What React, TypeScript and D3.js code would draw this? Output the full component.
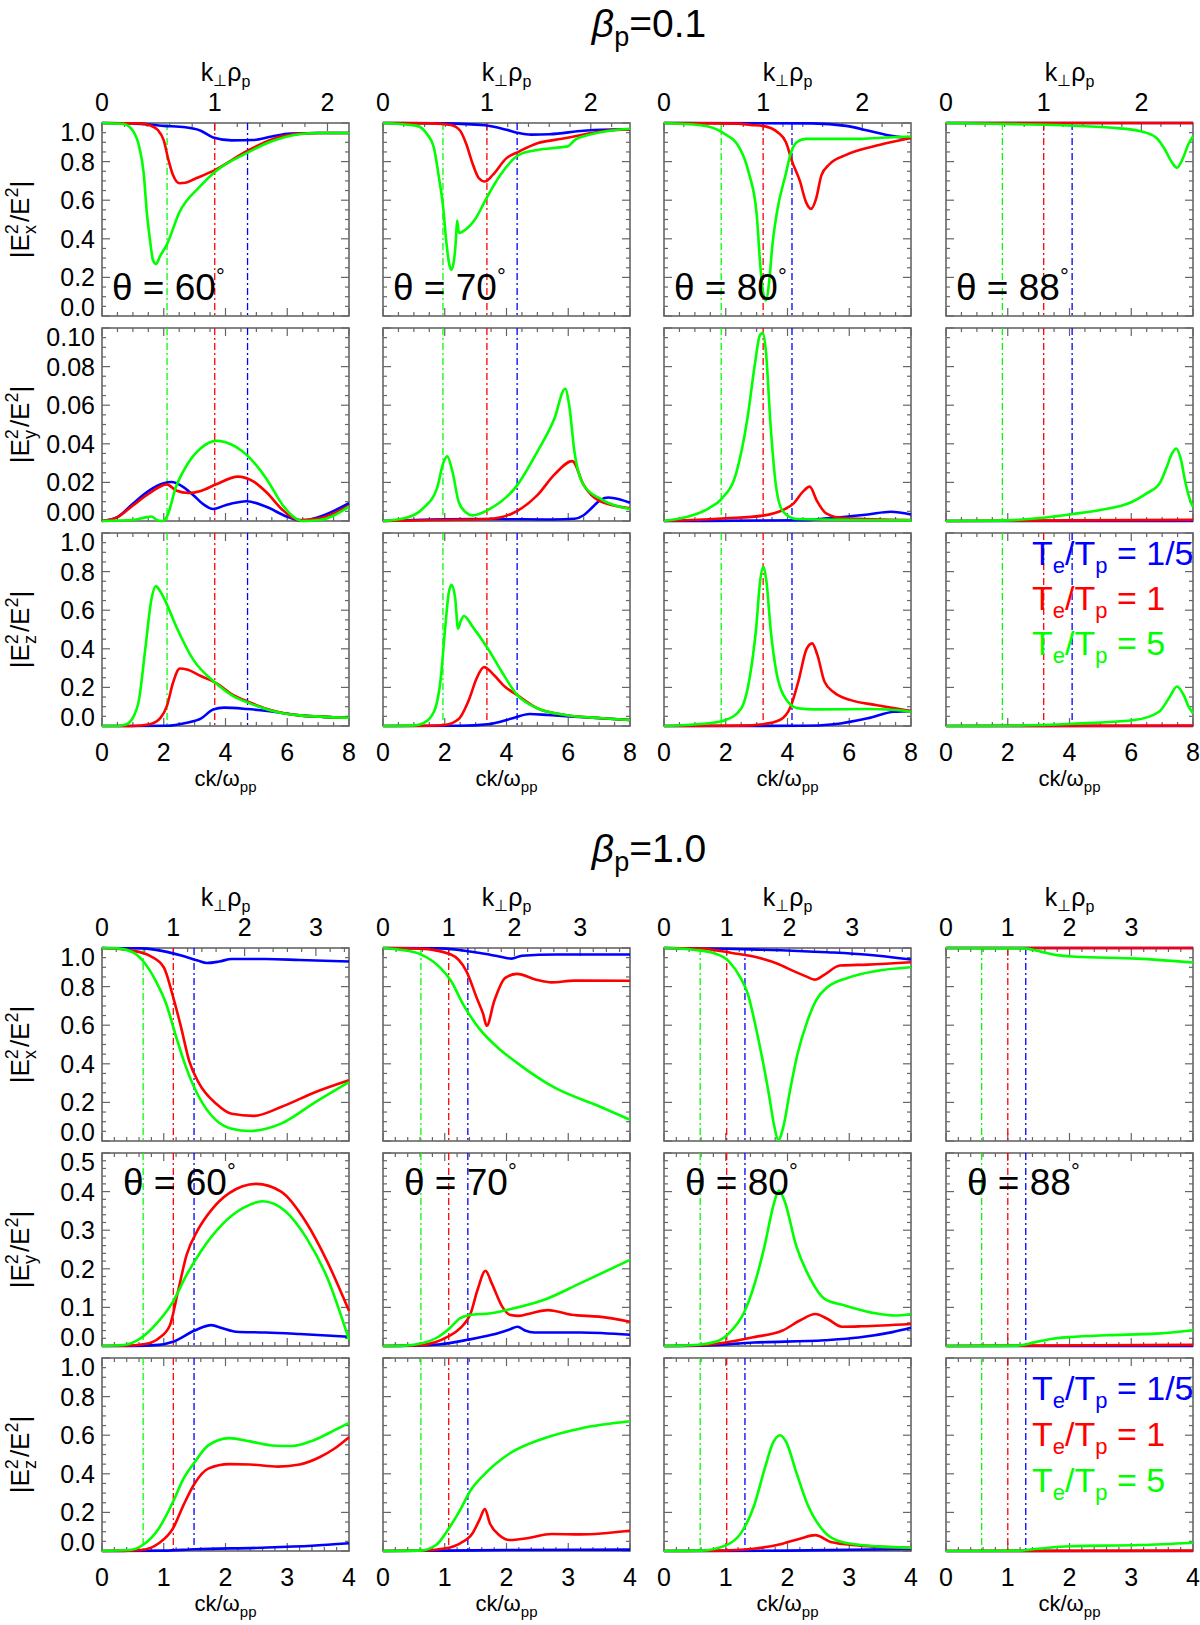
import * as d3 from 'd3'

type Pt = [number, number]

// ---- beta_p = 0.1 : |Ex^2/E^2| (x = ck/wpp) ----
const b1Ex60B: Pt[] = [[0,1],[1,0.998],[2,0.985],[2.7,0.978],[3.2,0.96],[3.6,0.925],[4.2,0.91],[4.9,0.912],[5.5,0.93],[6.1,0.945],[7,0.948],[8,0.948]]
const b1Ex60R: Pt[] = [[0,1],[1.2,0.998],[1.6,0.985],[1.8,0.965],[2.0,0.91],[2.15,0.81],[2.3,0.73],[2.5,0.688],[2.7,0.69],[3.0,0.71],[3.7,0.76],[4.7,0.855],[5.5,0.915],[6.4,0.945],[7,0.948],[8,0.948]]
const b1Ex60G: Pt[] = [[0,1],[0.7,0.995],[1.0,0.96],[1.2,0.88],[1.35,0.74],[1.45,0.54],[1.55,0.4],[1.65,0.29],[1.75,0.27],[1.88,0.31],[2.1,0.37],[2.5,0.535],[3.2,0.675],[3.7,0.752],[4.7,0.845],[5.5,0.905],[6.4,0.942],[7,0.948],[8,0.948]]
const b1Ex70B: Pt[] = [[0,1],[2,0.998],[3.3,0.988],[4.0,0.965],[4.4,0.948],[4.8,0.94],[5.4,0.942],[6.5,0.96],[7.1,0.965],[8,0.967]]
const b1Ex70R: Pt[] = [[0,1],[1.6,0.998],[2.2,0.99],[2.5,0.96],[2.7,0.89],[2.9,0.79],[3.1,0.715],[3.3,0.697],[3.55,0.73],[4.0,0.818],[4.4,0.852],[5.0,0.895],[5.8,0.918],[6.5,0.94],[7.2,0.96],[8,0.967]]
const b1Ex70G: Pt[] = [[0,1],[1.1,0.985],[1.4,0.948],[1.65,0.87],[1.8,0.73],[1.95,0.56],[2.05,0.385],[2.15,0.265],[2.22,0.24],[2.3,0.29],[2.36,0.39],[2.4,0.495],[2.46,0.43],[2.6,0.44],[3.0,0.505],[3.35,0.61],[3.8,0.73],[4.4,0.835],[5.0,0.86],[5.8,0.875],[6.0,0.88],[6.2,0.91],[6.7,0.94],[8,0.97]]
const b1Ex80B: Pt[] = [[0,1],[4.8,0.998],[5.9,0.985],[6.7,0.957],[7.4,0.932],[8,0.922]]
const b1Ex80R: Pt[] = [[0,1],[2.4,0.997],[2.8,0.99],[3.2,0.985],[3.7,0.95],[3.95,0.9],[4.15,0.8],[4.4,0.7],[4.6,0.59],[4.76,0.555],[4.93,0.61],[5.1,0.73],[5.35,0.785],[5.9,0.835],[7,0.887],[8,0.922]]
const b1Ex80G: Pt[] = [[0,1],[1.2,0.988],[1.9,0.95],[2.45,0.87],[2.75,0.74],[3.0,0.53],[3.12,0.26],[3.2,0.13],[3.3,0.08],[3.42,0.2],[3.5,0.35],[3.65,0.53],[3.95,0.74],[4.1,0.84],[4.3,0.9],[4.6,0.918],[6.4,0.918],[7.2,0.925],[8,0.93]]
const b1Ex88B: Pt[] = [[0,1],[8,1]]
const b1Ex88R: Pt[] = [[0,1],[8,1]]
const b1Ex88G: Pt[] = [[0,1],[2,0.995],[3.8,0.988],[5.4,0.975],[6.3,0.957],[6.8,0.925],[7.1,0.86],[7.3,0.8],[7.48,0.768],[7.68,0.82],[7.85,0.89],[8,0.93]]

// ---- beta_p = 0.1 : |Ey^2/E^2| ----
const b1Ey60B: Pt[] = [[0,0],[0.5,0.002],[1.0,0.009],[1.55,0.016],[2.0,0.0195],[2.25,0.0202],[2.6,0.018],[2.95,0.0135],[3.3,0.0085],[3.6,0.0062],[4.0,0.0082],[4.7,0.0102],[5.3,0.0075],[6.0,0.0022],[6.5,0.0002],[7.05,0.0022],[8,0.0092]]
const b1Ey60R: Pt[] = [[0,0],[0.5,0.002],[1.0,0.008],[1.55,0.0145],[2.1,0.019],[2.4,0.0158],[2.8,0.0145],[3.2,0.0156],[3.7,0.019],[4.4,0.023],[4.9,0.0205],[5.35,0.0145],[5.85,0.0057],[6.4,0.0005],[7.05,0.0014],[8,0.008]]
const b1Ey60G: Pt[] = [[0,0],[1.0,0.0005],[1.45,0.002],[1.6,0.0023],[1.77,0.0006],[1.95,0],[2.1,0.0022],[2.4,0.0178],[2.75,0.029],[3.2,0.0377],[3.7,0.0415],[4.0,0.0408],[4.7,0.034],[5.35,0.0213],[5.85,0.0083],[6.2,0.0022],[6.5,0],[7.05,0.0005],[8,0.0074]]
const b1Ey70B: Pt[] = [[0,0],[1,0.0005],[3,0.001],[5.5,0.0008],[6.2,0.0012],[6.5,0.003],[6.75,0.0066],[7.05,0.011],[7.3,0.0122],[7.7,0.011],[8,0.0095]]
const b1Ey70R: Pt[] = [[0,0],[1.9,0.0005],[3.4,0.001],[4.2,0.004],[5.0,0.0134],[5.55,0.024],[6.13,0.031],[6.5,0.0186],[7.0,0.0105],[8,0.0066]]
const b1Ey70G: Pt[] = [[0,0],[0.7,0.0014],[1.3,0.0066],[1.75,0.017],[1.95,0.03],[2.08,0.0335],[2.25,0.0255],[2.45,0.01],[2.7,0.0043],[2.9,0.0029],[3.4,0.0057],[4.35,0.0186],[5.0,0.036],[5.55,0.053],[5.9,0.0685],[6.03,0.06],[6.2,0.036],[6.5,0.0186],[7.1,0.011],[8,0.0062]]
const b1Ey80B: Pt[] = [[0,0],[4.5,0.0004],[5.5,0.0017],[6.6,0.0034],[7.35,0.0048],[8,0.0034]]
const b1Ey80R: Pt[] = [[0,0],[0.9,0.0005],[2,0.0014],[3.2,0.0028],[3.85,0.0057],[4.2,0.0091],[4.5,0.0152],[4.72,0.0178],[4.95,0.0105],[5.25,0.004],[5.85,0.0014],[8,0.0005]]
const b1Ey80G: Pt[] = [[0,0],[0.9,0.0028],[1.45,0.0066],[1.85,0.0112],[2.35,0.0255],[2.7,0.053],[2.95,0.082],[3.1,0.096],[3.2,0.0975],[3.3,0.088],[3.45,0.05],[3.62,0.019],[3.85,0.005],[4.3,0.001],[8,0.0003]]
const b1Ey88B: Pt[] = [[0,0],[8,0]]
const b1Ey88R: Pt[] = [[0,0],[4,0.0003],[8,0.0006]]
const b1Ey88G: Pt[] = [[0,0],[1.75,0.0002],[3.15,0.0017],[4.1,0.0036],[5.0,0.0057],[6.0,0.0097],[6.5,0.0143],[6.92,0.0195],[7.15,0.028],[7.32,0.035],[7.46,0.0376],[7.6,0.0324],[7.75,0.0203],[7.9,0.011],[8,0.0074]]

// ---- beta_p = 0.1 : |Ez^2/E^2| ----
const b1Ez60B: Pt[] = [[0,0],[2.1,0.001],[2.75,0.017],[3.2,0.038],[3.6,0.085],[3.95,0.095],[4.7,0.088],[5.35,0.078],[6.4,0.055],[8,0.043]]
const b1Ez60R: Pt[] = [[0,0],[1.0,0],[1.55,0.009],[1.9,0.043],[2.1,0.103],[2.3,0.224],[2.52,0.298],[2.75,0.293],[3.2,0.259],[3.7,0.222],[4.25,0.16],[4.75,0.125],[5.35,0.088],[6.4,0.055],[8,0.043]]
const b1Ez60G: Pt[] = [[0,0],[0.5,0],[0.8,0.009],[1.0,0.043],[1.2,0.138],[1.4,0.397],[1.6,0.655],[1.74,0.725],[1.88,0.7],[2.1,0.63],[2.4,0.517],[2.95,0.345],[3.7,0.22],[4.25,0.155],[4.75,0.12],[5.35,0.086],[6.4,0.055],[8,0.043]]
const b1Ez70B: Pt[] = [[0,0],[2.5,0.001],[3.4,0.009],[4.2,0.04],[4.75,0.062],[5.35,0.057],[6.5,0.045],[8,0.031]]
const b1Ez70R: Pt[] = [[0,0],[1.5,0.001],[2.0,0.005],[2.45,0.036],[2.8,0.143],[3.03,0.246],[3.27,0.305],[3.6,0.263],[3.95,0.203],[4.35,0.16],[5.0,0.092],[5.9,0.057],[7.1,0.04],[8,0.031]]
const b1Ez70G: Pt[] = [[0,0],[1.0,0.003],[1.3,0.014],[1.65,0.074],[1.87,0.246],[2.02,0.52],[2.13,0.69],[2.22,0.732],[2.34,0.66],[2.43,0.505],[2.51,0.54],[2.62,0.57],[2.9,0.515],[3.4,0.4],[3.85,0.28],[4.35,0.16],[5.0,0.092],[5.9,0.057],[7.1,0.04],[8,0.031]]
const b1Ez80B: Pt[] = [[0,0],[4.5,0.001],[5.5,0.009],[6.6,0.04],[7.45,0.074],[8,0.077]]
const b1Ez80R: Pt[] = [[0,0],[2.5,0.002],[3.2,0.009],[3.75,0.031],[4.1,0.1],[4.35,0.23],[4.62,0.4],[4.8,0.428],[4.97,0.367],[5.2,0.229],[5.5,0.175],[6.05,0.134],[6.9,0.108],[8,0.077]]
const b1Ez80G: Pt[] = [[0,0],[1.45,0.014],[2.0,0.031],[2.5,0.091],[2.77,0.246],[2.98,0.5],[3.12,0.76],[3.22,0.825],[3.31,0.76],[3.46,0.49],[3.64,0.28],[3.87,0.16],[4.33,0.092],[4.9,0.086],[6.6,0.088],[7.5,0.083],[8,0.074]]
const b1Ez88B: Pt[] = [[0,0],[8,0]]
const b1Ez88R: Pt[] = [[0,0],[8,0.002]]
const b1Ez88G: Pt[] = [[0,0],[1.75,0.001],[4.1,0.012],[6.1,0.031],[6.9,0.074],[7.25,0.152],[7.48,0.205],[7.7,0.16],[7.86,0.1],[8,0.066]]

// ---- beta_p = 1.0 : |Ex^2/E^2| ----
const b2Ex60B: Pt[] = [[0,1],[0.65,0.998],[1.05,0.98],[1.3,0.96],[1.55,0.935],[1.7,0.922],[1.9,0.93],[2.1,0.943],[2.65,0.943],[3.2,0.938],[4,0.93]]
const b2Ex60R: Pt[] = [[0,1],[0.5,0.986],[0.77,0.96],[1.0,0.9],[1.14,0.76],[1.28,0.59],[1.41,0.417],[1.57,0.3],[1.85,0.193],[2.1,0.141],[2.45,0.13],[2.9,0.176],[3.45,0.253],[4,0.315]]
const b2Ex60G: Pt[] = [[0,1],[0.25,0.998],[0.5,0.978],[0.66,0.934],[0.87,0.83],[1.04,0.71],[1.2,0.54],[1.36,0.383],[1.57,0.228],[1.85,0.107],[2.1,0.064],[2.4,0.052],[2.9,0.09],[3.45,0.2],[4,0.305]]
const b2Ex70B: Pt[] = [[0,1],[0.9,0.998],[1.55,0.975],[1.9,0.955],[2.08,0.945],[2.25,0.96],[2.8,0.966],[4,0.966]]
const b2Ex70R: Pt[] = [[0,1],[0.6,0.997],[1.1,0.966],[1.35,0.88],[1.52,0.74],[1.62,0.66],[1.68,0.597],[1.8,0.724],[1.98,0.845],[2.17,0.866],[2.48,0.836],[2.73,0.822],[3.1,0.831],[4,0.83]]
const b2Ex70G: Pt[] = [[0,1],[0.3,0.99],[0.62,0.966],[0.93,0.897],[1.1,0.83],[1.3,0.707],[1.55,0.586],[1.86,0.483],[2.17,0.405],[2.78,0.276],[3.5,0.18],[4,0.11]]
const b2Ex80B: Pt[] = [[0,1],[1.4,0.993],[2.65,0.978],[3.3,0.965],[4,0.94]]
const b2Ex80R: Pt[] = [[0,1],[0.6,0.997],[1.1,0.974],[1.55,0.948],[1.85,0.917],[2.1,0.88],[2.3,0.853],[2.44,0.836],[2.6,0.862],[2.85,0.909],[3.3,0.914],[4,0.926]]
const b2Ex80G: Pt[] = [[0,1],[0.5,0.99],[0.8,0.974],[1.05,0.931],[1.24,0.845],[1.36,0.76],[1.48,0.6],[1.6,0.414],[1.7,0.24],[1.78,0.086],[1.85,0.005],[1.93,0.07],[2.04,0.26],[2.16,0.448],[2.32,0.62],[2.47,0.733],[2.66,0.8],[2.97,0.845],[3.4,0.879],[4,0.9]]
const b2Ex88B: Pt[] = [[0,1],[4,1]]
const b2Ex88R: Pt[] = [[0,1],[4,1]]
const b2Ex88G: Pt[] = [[0,1],[1.25,0.998],[1.55,0.98],[1.8,0.963],[2.1,0.955],[3.1,0.945],[4,0.925]]

// ---- beta_p = 1.0 : |Ey^2/E^2| ----
const b2Ey60B: Pt[] = [[0,0],[0.5,0.0003],[0.92,0.003],[1.15,0.011],[1.5,0.04],[1.77,0.054],[1.95,0.046],[2.17,0.037],[2.65,0.035],[3.2,0.031],[4,0.024]]
const b2Ey60R: Pt[] = [[0,0],[0.35,0.0005],[0.7,0.005],[0.92,0.02],[1.1,0.054],[1.23,0.141],[1.37,0.236],[1.55,0.3],[1.77,0.352],[2.06,0.396],[2.5,0.42],[2.9,0.4],[3.3,0.322],[3.65,0.218],[4,0.091]]
const b2Ey60G: Pt[] = [[0,0],[0.35,0.0026],[0.66,0.024],[0.86,0.054],[1.15,0.115],[1.37,0.184],[1.6,0.245],[1.94,0.314],[2.28,0.357],[2.6,0.375],[2.97,0.349],[3.31,0.28],[3.65,0.176],[4,0.016]]
const b2Ey70B: Pt[] = [[0,0],[0.5,0.001],[0.9,0.004],[1.37,0.016],[1.76,0.029],[2.05,0.043],[2.18,0.05],[2.3,0.04],[2.45,0.035],[3.2,0.035],[4,0.029]]
const b2Ey70R: Pt[] = [[0,0],[0.6,0.002],[1.05,0.024],[1.25,0.046],[1.42,0.085],[1.53,0.145],[1.66,0.195],[1.76,0.163],[1.93,0.102],[2.05,0.081],[2.2,0.078],[2.4,0.085],[2.67,0.093],[3.05,0.081],[3.5,0.076],[4,0.063]]
const b2Ey70G: Pt[] = [[0,0],[0.35,0.001],[0.63,0.007],[0.9,0.024],[1.08,0.046],[1.25,0.072],[1.4,0.08],[1.75,0.085],[2.05,0.095],[2.6,0.119],[3.2,0.163],[4,0.223]]
const b2Ey80B: Pt[] = [[0,0],[0.6,0.001],[1.46,0.009],[2.6,0.015],[3.15,0.022],[3.7,0.036],[4,0.047]]
const b2Ey80R: Pt[] = [[0,0],[0.6,0.002],[1.0,0.009],[1.46,0.023],[1.92,0.04],[2.2,0.066],[2.45,0.083],[2.65,0.07],[2.88,0.05],[3.2,0.051],[4,0.057]]
const b2Ey80G: Pt[] = [[0,0],[0.3,0.001],[0.6,0.004],[0.9,0.015],[1.07,0.036],[1.3,0.088],[1.46,0.157],[1.63,0.26],[1.77,0.363],[1.86,0.403],[1.95,0.377],[2.14,0.26],[2.37,0.174],[2.6,0.122],[2.93,0.105],[3.45,0.084],[3.73,0.079],[4,0.083]]
const b2Ey88B: Pt[] = [[0,0],[4,0]]
const b2Ey88R: Pt[] = [[0,0],[1.2,0.001],[4,0.003]]
const b2Ey88G: Pt[] = [[0,0],[1.15,0.001],[1.45,0.01],[1.73,0.019],[2.0,0.023],[2.6,0.028],[3.4,0.032],[4,0.041]]

// ---- beta_p = 1.0 : |Ez^2/E^2| ----
const b2Ez60B: Pt[] = [[0,0],[1.0,0.002],[1.5,0.009],[2.6,0.017],[3.4,0.027],[4,0.04]]
const b2Ez60R: Pt[] = [[0,0],[0.35,0.0005],[0.64,0.005],[0.92,0.04],[1.15,0.117],[1.32,0.238],[1.5,0.35],[1.72,0.427],[2.06,0.45],[2.4,0.448],[2.85,0.437],[3.2,0.448],[3.53,0.487],[3.76,0.53],[4,0.59]]
const b2Ez60G: Pt[] = [[0,0],[0.45,0.005],[0.66,0.031],[0.92,0.117],[1.15,0.255],[1.32,0.375],[1.5,0.46],[1.72,0.547],[2.06,0.585],[2.4,0.568],[2.75,0.547],[3.08,0.544],[3.42,0.573],[3.76,0.625],[4,0.664]]
const b2Ez70B: Pt[] = [[0,0],[1,0.002],[2,0.005],[4,0.007]]
const b2Ez70R: Pt[] = [[0,0],[0.6,0.001],[1.02,0.014],[1.25,0.04],[1.45,0.092],[1.56,0.16],[1.65,0.217],[1.73,0.144],[1.88,0.083],[2.05,0.057],[2.33,0.066],[2.73,0.088],[3.2,0.086],[4,0.105]]
const b2Ez70G: Pt[] = [[0,0],[0.6,0.002],[0.86,0.031],[1.05,0.109],[1.25,0.213],[1.42,0.315],[1.65,0.4],[2.05,0.505],[2.6,0.583],[3.2,0.635],[4,0.672]]
const b2Ez80B: Pt[] = [[0,0],[2,0.002],[4,0.01]]
const b2Ez80R: Pt[] = [[0,0],[0.8,0.002],[1.45,0.012],[1.92,0.038],[2.2,0.064],[2.45,0.082],[2.7,0.047],[3.15,0.029],[4,0.016]]
const b2Ez80G: Pt[] = [[0,0],[0.6,0.002],[1.0,0.029],[1.24,0.09],[1.46,0.236],[1.63,0.426],[1.77,0.564],[1.88,0.6],[1.98,0.564],[2.14,0.41],[2.31,0.253],[2.6,0.098],[2.88,0.047],[3.45,0.024],[4,0.017]]
const b2Ez88B: Pt[] = [[0,0],[4,0]]
const b2Ez88R: Pt[] = [[0,0],[4,0.002]]
const b2Ez88G: Pt[] = [[0,0],[1.15,0.001],[1.5,0.012],[2.0,0.025],[3.15,0.031],[4,0.043]]

// angles, betas, marker positions (k_perp rho_p where dash-dot lines sit)
const thetas = [60, 70, 80, 88]
const betaTitles = ['0.1', '1.0']
const betaValues = [0.1, 1.0]
const kperpMarks = [1.291, 1.0, 0.577]
const markColors = ['#0000ff', '#ff0000', '#00ff00']
const seriesColors = ['#0000ff', '#ff0000', '#00ff00']
const legendLabels = ['1/5', '1', '5']
const b1XTicks = [0, 2, 4, 6, 8]
const b2XTicks = [0, 1, 2, 3, 4]
const b1KTicks = [0, 1, 2]
const b2KTicks = [0, 1, 2, 3]
const exTicks = [0, 0.2, 0.4, 0.6, 0.8, 1.0]
const b1EyTicks = [0, 0.02, 0.04, 0.06, 0.08, 0.1]
const b2EyTicks = [0, 0.1, 0.2, 0.3, 0.4, 0.5]

const FONT = '"Liberation Sans", Arial, Helvetica, sans-serif'
const FRAME = '#666'

const b1Data: Pt[][][][] = [
  [[b1Ex60B, b1Ex60R, b1Ex60G], [b1Ex70B, b1Ex70R, b1Ex70G], [b1Ex80B, b1Ex80R, b1Ex80G], [b1Ex88B, b1Ex88R, b1Ex88G]],
  [[b1Ey60B, b1Ey60R, b1Ey60G], [b1Ey70B, b1Ey70R, b1Ey70G], [b1Ey80B, b1Ey80R, b1Ey80G], [b1Ey88B, b1Ey88R, b1Ey88G]],
  [[b1Ez60B, b1Ez60R, b1Ez60G], [b1Ez70B, b1Ez70R, b1Ez70G], [b1Ez80B, b1Ez80R, b1Ez80G], [b1Ez88B, b1Ez88R, b1Ez88G]],
]
const b2Data: Pt[][][][] = [
  [[b2Ex60B, b2Ex60R, b2Ex60G], [b2Ex70B, b2Ex70R, b2Ex70G], [b2Ex80B, b2Ex80R, b2Ex80G], [b2Ex88B, b2Ex88R, b2Ex88G]],
  [[b2Ey60B, b2Ey60R, b2Ey60G], [b2Ey70B, b2Ey70R, b2Ey70G], [b2Ey80B, b2Ey80R, b2Ey80G], [b2Ey88B, b2Ey88R, b2Ey88G]],
  [[b2Ez60B, b2Ez60R, b2Ez60G], [b2Ez70B, b2Ez70R, b2Ez70G], [b2Ez80B, b2Ez80R, b2Ez80G], [b2Ez88B, b2Ez88R, b2Ez88G]],
]

const blocks = [
  { data: b1Data, xMax: 8, xTicks: b1XTicks, xMinor: 0.5, kTicks: b1KTicks,
    rows: [{ ticks: exTicks, minor: 0.05, fmt: '.1f', comp: 'x' }, { ticks: b1EyTicks, minor: 0.005, fmt: '.2f', comp: 'y' }, { ticks: exTicks, minor: 0.05, fmt: '.1f', comp: 'z' }],
    top: 123, thetaRow: 0, legendDy: [32, 77, 122] },
  { data: b2Data, xMax: 4, xTicks: b2XTicks, xMinor: 0.2, kTicks: b2KTicks,
    rows: [{ ticks: exTicks, minor: 0.05, fmt: '.1f', comp: 'x' }, { ticks: b2EyTicks, minor: 0.02, fmt: '.1f', comp: 'y' }, { ticks: exTicks, minor: 0.05, fmt: '.1f', comp: 'z' }],
    top: 948, thetaRow: 1, legendDy: [42, 88, 134] },
]

const colX = [102, 383, 664, 946]
const PW = 247
const PH = 193
const ROWSTEP = 205

function Panel({ bi, ri, ci }: { bi: number; ri: number; ci: number }) {
  const b = blocks[bi]
  const row = b.rows[ri]
  const x0 = colX[ci]
  const y0 = b.top + ri * ROWSTEP
  const yMax = row.ticks[row.ticks.length - 1]
  const x = d3.scaleLinear().domain([0, b.xMax]).range([x0, x0 + PW])
  const y = d3.scaleLinear().domain([0, yMax]).range([y0 + PH, y0])
  const factor = Math.sin((thetas[ci] * Math.PI) / 180) * Math.sqrt(betaValues[bi])
  const k = d3.scaleLinear().domain([0, b.xMax * factor]).range([x0, x0 + PW])
  const line = d3.line<Pt>().x(d => x(d[0])).y(d => y(d[1])).curve(d3.curveMonotoneX)
  const series = b.data[ri][ci]

  const xMinor = d3.range(0, b.xMax + 1e-9, b.xMinor)
  const yMinor = d3.range(0, yMax + 1e-9, row.minor)
  const kMinor = d3.range(0, b.xMax * factor, 0.2)
  const isMajor = (v: number, list: number[]) => list.some(t => Math.abs(t - v) < 1e-6)

  const tickEls: JSX.Element[] = []
  xMinor.forEach((v, i) => {
    const L = isMajor(v, b.xTicks) ? 8 : 4
    const px = x(v)
    tickEls.push(<line key={`xb${i}`} x1={px} x2={px} y1={y0 + PH} y2={y0 + PH - L} />)
    if (ri > 0) tickEls.push(<line key={`xt${i}`} x1={px} x2={px} y1={y0} y2={y0 + L} />)
  })
  if (ri === 0) {
    kMinor.forEach((v, i) => {
      const L = Math.abs(v - Math.round(v)) < 1e-6 ? 8 : 4
      const px = k(v)
      tickEls.push(<line key={`kt${i}`} x1={px} x2={px} y1={y0} y2={y0 + L} />)
    })
  }
  yMinor.forEach((v, i) => {
    const L = isMajor(v, row.ticks) ? 8 : 4
    const py = y(v)
    tickEls.push(<line key={`yl${i}`} x1={x0} x2={x0 + L} y1={py} y2={py} />)
    tickEls.push(<line key={`yr${i}`} x1={x0 + PW} x2={x0 + PW - L} y1={py} y2={py} />)
  })

  const cx = x0 + PW / 2
  const fmt = d3.format(row.fmt)

  return (
    <g>
      <rect x={x0} y={y0} width={PW} height={PH} fill="none" stroke={FRAME} strokeWidth={1.6} />
      <g stroke={FRAME} strokeWidth={1.2}>{tickEls}</g>
      {kperpMarks.map((kv, i) => (
        <line key={`m${i}`} x1={k(kv)} x2={k(kv)} y1={y0} y2={y0 + PH}
          stroke={markColors[i]} strokeWidth={1.3} strokeDasharray="7,3,2,3" />
      ))}
      {series.map((s, i) => (
        <path key={`s${i}`} d={line(s) || ''} fill="none" stroke={seriesColors[i]} strokeWidth={2.6} strokeLinejoin="round" />
      ))}
      {/* y tick labels on first column */}
      {ci === 0 && row.ticks.map((v, i) => {
        let py = y(v)
        if (i === 0) py -= 9
        if (i === row.ticks.length - 1) py += 9
        return (
          <text key={`yl${i}`} x={x0 - 7} y={py + 9} textAnchor="end" fontSize={25} fontFamily={FONT}>{fmt(v)}</text>
        )
      })}
      {ci === 0 && (
        <text transform={`translate(29,${y0 + PH / 2}) rotate(-90)`} textAnchor="middle" fontSize={26} fontFamily={FONT}>
          |E<tspan fontSize={18} dy={-11}>2</tspan><tspan fontSize={18} dx={-10} dy={18}>{row.comp}</tspan>
          <tspan dx={3} dy={-7}>/E</tspan><tspan fontSize={18} dy={-11}>2</tspan><tspan dy={11}>|</tspan>
        </text>
      )}
      {/* top axis k_perp rho_p */}
      {ri === 0 && b.kTicks.map(v => (
        <text key={`kt${v}`} x={k(v)} y={y0 - 12} textAnchor="middle" fontSize={25} fontFamily={FONT}>{v}</text>
      ))}
      {ri === 0 && (
        <text x={cx} y={y0 - 42} textAnchor="middle" fontSize={25} fontFamily={FONT}>
          k<tspan fontSize={16} dy={5}>⊥</tspan><tspan dy={-5}>ρ</tspan><tspan fontSize={16} dy={6}>p</tspan>
        </text>
      )}
      {/* bottom axis */}
      {ri === 2 && b.xTicks.map(v => (
        <text key={`xt${v}`} x={x(v)} y={y0 + PH + 35} textAnchor="middle" fontSize={25} fontFamily={FONT}>{v}</text>
      ))}
      {ri === 2 && (
        <text x={cx} y={y0 + PH + 60} textAnchor="middle" fontSize={22} fontFamily={FONT}>
          ck/ω<tspan fontSize={15} dy={6}>pp</tspan>
        </text>
      )}
      {ri === b.thetaRow && (
        bi === 0 ? (
          <text x={x0 + 10} y={y0 + PH - 16} fontSize={37} fontFamily={FONT}>
            θ = {thetas[ci]}<tspan fontSize={22} dy={-16}>°</tspan>
          </text>
        ) : (
          <text x={x0 + 21} y={y0 + 42} fontSize={37} fontFamily={FONT}>
            θ = {thetas[ci]}<tspan fontSize={22} dy={-16}>°</tspan>
          </text>
        )
      )}
      {ri === 2 && ci === 3 && legendLabels.map((lab, i) => (
        <text key={`lg${i}`} x={x0 + 86} y={y0 + b.legendDy[i]} fontSize={34} fill={seriesColors[i]} fontFamily={FONT}>
          T<tspan fontSize={22} dy={8}>e</tspan><tspan dy={-8}>/T</tspan><tspan fontSize={22} dy={8}>p</tspan><tspan dy={-8}> = {lab}</tspan>
        </text>
      ))}
    </g>
  )
}

export default function App() {
  const W = 1200
  const H = 1625
  return (
    <div style={{ position: 'absolute', left: 0, top: 0, background: '#fff' }}>
      <svg width={W} height={H} viewBox={`0 0 ${W} ${H}`} style={{ display: 'block', background: '#fff' }}>
        {blocks.map((b, bi) => (
          <g key={`b${bi}`}>
            <text x={649} y={b.top - 86} textAnchor="middle" fontSize={39} fontFamily={FONT}>
              <tspan fontStyle="italic">β</tspan><tspan fontSize={27} dy={9}>p</tspan><tspan dy={-9}>={betaTitles[bi]}</tspan>
            </text>
            {[0, 1, 2].map(ri => [0, 1, 2, 3].map(ci => (
              <Panel key={`p${bi}${ri}${ci}`} bi={bi} ri={ri} ci={ci} />
            )))}
          </g>
        ))}
      </svg>
    </div>
  )
}
